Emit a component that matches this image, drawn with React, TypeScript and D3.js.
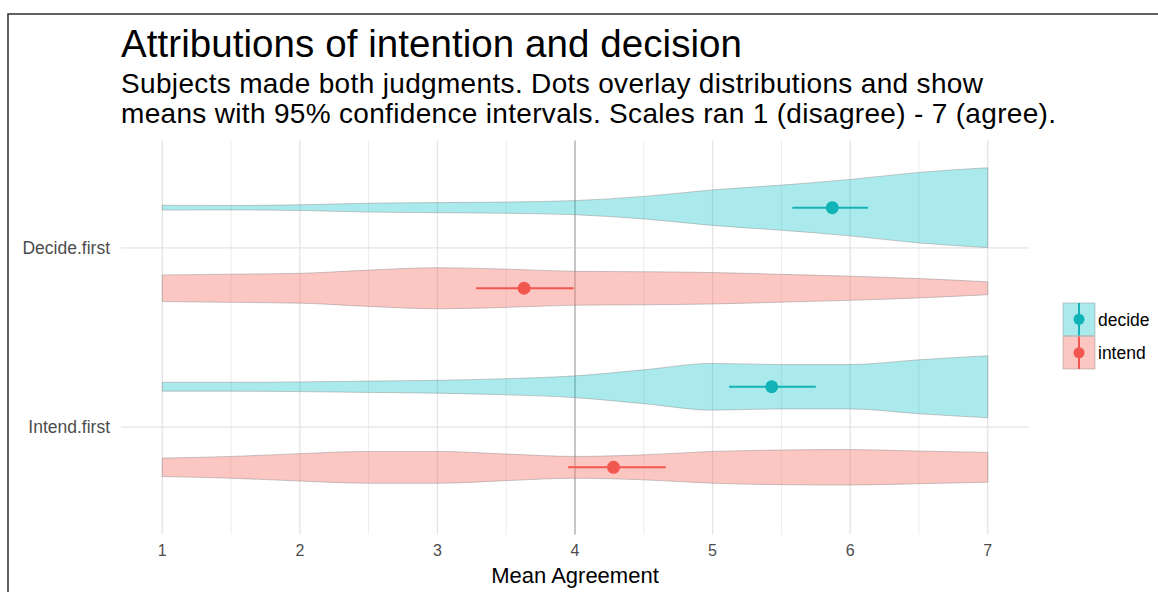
import * as React from "react"
import * as d3 from "d3"

// categories on the vertical axis (top to bottom) and the two judgment groups
const categories = ["Decide.first", "Intend.first"]
const groups = ["decide", "intend"]

// agreement values at which the violin outlines were read
const densityAt = [1, 1.5, 2, 2.5, 3, 3.5, 4, 4.5, 5, 5.5, 6, 6.5, 7]

// relative violin widths (1 = widest violin)
const decideFirstDecide = [0.06, 0.055, 0.07, 0.11, 0.125, 0.14, 0.175, 0.28, 0.44, 0.56, 0.7, 0.875, 0.99]
const decideFirstIntend = [0.33, 0.35, 0.37, 0.45, 0.51, 0.475, 0.42, 0.41, 0.39, 0.345, 0.3, 0.24, 0.16]
const intendFirstDecide = [0.11, 0.11, 0.12, 0.14, 0.16, 0.2, 0.27, 0.42, 0.58, 0.55, 0.55, 0.67, 0.77]
const intendFirstIntend = [0.23, 0.27, 0.34, 0.395, 0.395, 0.33, 0.27, 0.31, 0.395, 0.43, 0.44, 0.405, 0.37]

// means with 95% CI, one entry per category
const decideMean = [5.87, 5.43]
const decideLow = [5.58, 5.12]
const decideHigh = [6.13, 5.75]
const intendMean = [3.63, 4.28]
const intendLow = [3.28, 3.95]
const intendHigh = [3.99, 4.66]

const xTicks = [1, 2, 3, 4, 5, 6, 7]
const xMinor = [1.5, 2.5, 3.5, 4.5, 5.5, 6.5]

const fillColor: Record<string, string> = { decide: "#00BFC4", intend: "#F8766D" }
const pointColor: Record<string, string> = { decide: "#12B3B6", intend: "#F2574F" }
const fillOpacity: Record<string, number> = { decide: 0.33, intend: 0.42 }

const font = "'Liberation Sans', Arial, Helvetica, sans-serif"

export default function App() {
  const width = 1158
  const height = 592
  const panel = { left: 121, right: 1029, top: 140.5, bottom: 534.5 }

  // ggplot style 5% expansion around 1..7
  const x = d3.scaleLinear().domain([0.7, 7.3]).range([panel.left, panel.right])
  const y = d3.scalePoint<string>().domain(categories).range([panel.top, panel.bottom]).padding(0.6)
  const step = y.step()
  const dodge = 0.225 * step

  const violins = [
    { cat: "Decide.first", group: "decide", dens: decideFirstDecide },
    { cat: "Decide.first", group: "intend", dens: decideFirstIntend },
    { cat: "Intend.first", group: "decide", dens: intendFirstDecide },
    { cat: "Intend.first", group: "intend", dens: intendFirstIntend },
  ]

  const centerY = (cat: string, group: string) => (y(cat) as number) + (group === "decide" ? -dodge : dodge)

  const ranges = categories.flatMap((cat, i) => [
    { cat, group: "decide", mean: decideMean[i], lo: decideLow[i], hi: decideHigh[i] },
    { cat, group: "intend", mean: intendMean[i], lo: intendLow[i], hi: intendHigh[i] },
  ])

  return (
    <svg
      width={width}
      height={height}
      style={{ position: "absolute", left: 0, top: 0, background: "#fff" }}
      fontFamily={font}
    >
      {/* outer frame of the original figure */}
      <rect x={8} y={14} width={1200} height={700} fill="none" stroke="#3a3a3a" strokeWidth={1.6} />

      {/* titles */}
      <text x={121} y={57} fontSize={38.5} fill="#000" textLength={621} lengthAdjust="spacing">
        Attributions of intention and decision
      </text>
      <text x={121} y={93} fontSize={28} fill="#000" textLength={862} lengthAdjust="spacing">
        Subjects made both judgments. Dots overlay distributions and show
      </text>
      <text x={121} y={122.5} fontSize={28} fill="#000" textLength={935} lengthAdjust="spacing">
        means with 95% confidence intervals. Scales ran 1 (disagree) - 7 (agree).
      </text>

      {/* grid */}
      {xMinor.map((v) => (
        <line key={"mn" + v} x1={x(v)} x2={x(v)} y1={panel.top} y2={panel.bottom} stroke="#ececec" strokeWidth={1} />
      ))}
      {xTicks.map((v) => (
        <line key={"mj" + v} x1={x(v)} x2={x(v)} y1={panel.top} y2={panel.bottom} stroke="#e4e4e4" strokeWidth={1.3} />
      ))}
      {categories.map((c) => (
        <line key={"h" + c} x1={panel.left} x2={panel.right} y1={y(c)} y2={y(c)} stroke="#e4e4e4" strokeWidth={1.3} />
      ))}

      {/* reference line at the scale midpoint */}
      <line x1={x(4)} x2={x(4)} y1={panel.top} y2={panel.bottom} stroke="#c2c2c2" strokeWidth={1.8} />

      {/* violins */}
      {violins.map((v) => {
        const cy = centerY(v.cat, v.group)
        const pts = densityAt.map((a, i) => ({ a, w: v.dens[i] * dodge }))
        const area = d3
          .area<{ a: number; w: number }>()
          .x((d) => x(d.a))
          .y0((d) => cy - d.w)
          .y1((d) => cy + d.w)
          .curve(d3.curveMonotoneX)
        return (
          <path
            key={v.cat + v.group}
            d={area(pts) || ""}
            fill={fillColor[v.group]}
            fillOpacity={fillOpacity[v.group]}
            stroke="#8a8a8a"
            strokeOpacity={0.45}
            strokeWidth={1}
          />
        )
      })}

      {/* means and confidence intervals */}
      {ranges.map((r) => {
        const cy = centerY(r.cat, r.group)
        return (
          <g key={"pr" + r.cat + r.group}>
            <line x1={x(r.lo)} x2={x(r.hi)} y1={cy} y2={cy} stroke={pointColor[r.group]} strokeWidth={2} />
            <circle cx={x(r.mean)} cy={cy} r={6.5} fill={pointColor[r.group]} />
          </g>
        )
      })}

      {/* y axis labels */}
      {categories.map((c) => (
        <text key={"yl" + c} x={110} y={(y(c) as number) + 6} fontSize={17.5} fill="#4d4d4d" textAnchor="end">
          {c}
        </text>
      ))}

      {/* x axis labels */}
      {xTicks.map((v) => (
        <text key={"xl" + v} x={x(v)} y={555.5} fontSize={16} fill="#4d4d4d" textAnchor="middle">
          {v}
        </text>
      ))}
      <text x={(panel.left + panel.right) / 2} y={583} fontSize={22} fill="#000" textAnchor="middle">
        Mean Agreement
      </text>

      {/* legend */}
      {groups.map((g, i) => {
        const ky = 303 + i * 33.5
        return (
          <g key={"lg" + g}>
            <rect x={1063} y={ky} width={32} height={32.5} fill="#fff" />
            <rect
              x={1063}
              y={ky}
              width={32}
              height={32.5}
              fill={fillColor[g]}
              fillOpacity={fillOpacity[g]}
              stroke="#8a8a8a"
              strokeOpacity={0.45}
            />
            <line x1={1079} x2={1079} y1={ky} y2={ky + 32.5} stroke={pointColor[g]} strokeWidth={2} />
            <circle cx={1079} cy={ky + 16.25} r={5.5} fill={pointColor[g]} />
            <text x={1098} y={ky + 22.5} fontSize={17.5} fill="#000">
              {g}
            </text>
          </g>
        )
      })}
    </svg>
  )
}
